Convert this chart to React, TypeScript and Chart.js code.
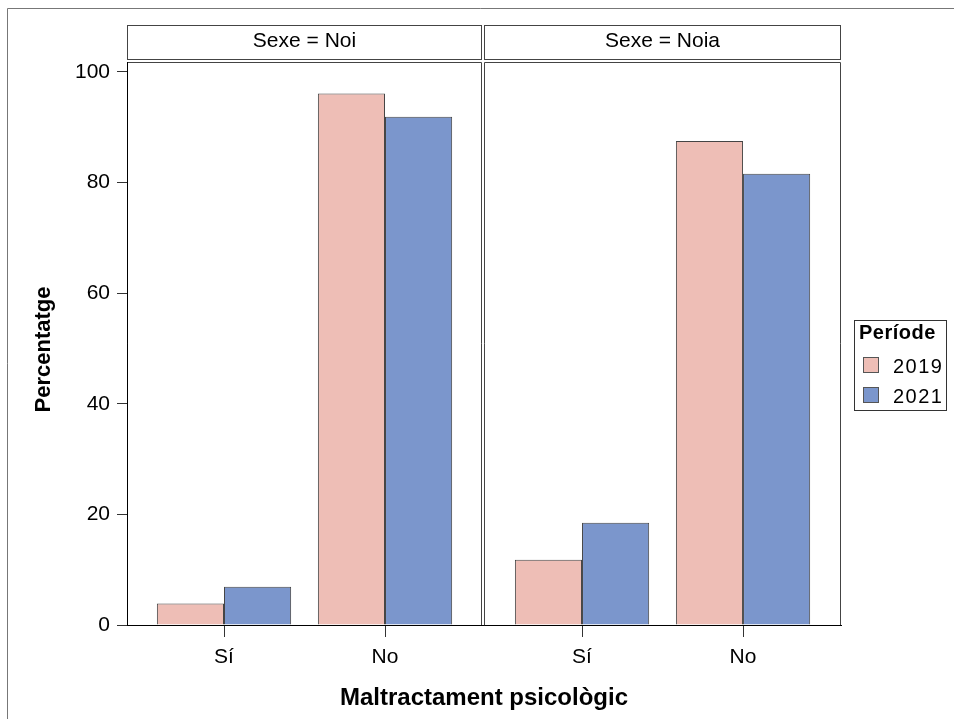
import React, { useEffect, useRef } from "react";
import { Chart, registerables } from "chart.js";

Chart.register(...registerables);

// ---- data ----
const PANELS = ["Sexe = Noi", "Sexe = Noia"];
const CATEGORIES = ["Sí", "No"];
const PERIODS = ["2019", "2021"];
const NOI_2019 = [3.9, 96.1];
const NOI_2021 = [6.9, 91.9];
const NOIA_2019 = [11.8, 87.5];
const NOIA_2021 = [18.5, 81.6];
const Y_TICKS = [0, 20, 40, 60, 80, 100];
const X_TITLE = "Maltractament psicològic";
const Y_TITLE = "Percentatge";
const LEGEND_TITLE = "Període";

const COLORS = ["#EEBEB6", "#7B96CC"];
const FONT = "'Liberation Sans', Arial, Helvetica, sans-serif";

// layout (in x-scale units: one category step = 1)
const PANEL_SPAN = 2.2236;
const X_MIN = -0.6025;
const X_MAX = 3.832;
const xPos = (panel: number, cat: number) => panel * PANEL_SPAN + cat;
const X_TICK_POS = PANELS.flatMap((_, p) => CATEGORIES.map((_, c) => xPos(p, c)));

const seriesFor = (periodIndex: number) => {
  const byPanel = periodIndex === 0 ? [NOI_2019, NOIA_2019] : [NOI_2021, NOIA_2021];
  return byPanel.flatMap((vals, p) => vals.map((v, c) => ({ x: xPos(p, c), y: v })));
};

const decorPlugin = {
  id: "decor",
  afterDraw(chart: any) {
    const { ctx, chartArea } = chart;
    const xs = chart.scales.x;
    const left = chartArea.left;
    const right = chartArea.right;
    const top = chartArea.top;
    const bottom = chartArea.bottom;
    const mid = Math.floor(xs.getPixelForValue((xPos(0, 1) + xPos(1, 0)) / 2));
    const panelsX = [
      [left + 0.5, mid - 1.5],
      [mid + 1.5, right - 0.5],
    ];
    ctx.save();
    // outer frame
    ctx.strokeStyle = "#777";
    ctx.lineWidth = 1;
    ctx.beginPath();
    ctx.moveTo(7.5, 719);
    ctx.lineTo(7.5, 8.5);
    ctx.lineTo(954, 8.5);
    ctx.stroke();

    // panel frames and strips
    ctx.strokeStyle = "#444";
    panelsX.forEach(([a, b], i) => {
      ctx.beginPath();
      ctx.moveTo(a, bottom);
      ctx.lineTo(a, top + 0.5);
      ctx.lineTo(b, top + 0.5);
      ctx.lineTo(b, bottom);
      ctx.stroke();
      ctx.strokeRect(a, 25.5, b - a, 34);
      ctx.fillStyle = "#000";
      ctx.font = `21px ${FONT}`;
      ctx.textAlign = "center";
      ctx.textBaseline = "alphabetic";
      ctx.fillText(PANELS[i], (a + b) / 2, 47);
    });
    // y axis line & x axis line re-drawn black on top
    ctx.strokeStyle = "#000";
    ctx.beginPath();
    ctx.moveTo(left + 0.5, top);
    ctx.lineTo(left + 0.5, bottom + 0.5);
    ctx.lineTo(right, bottom + 0.5);
    ctx.stroke();

    // axis titles
    ctx.fillStyle = "#000";
    ctx.font = `bold 24px ${FONT}`;
    ctx.textAlign = "center";
    ctx.textBaseline = "alphabetic";
    ctx.fillText(X_TITLE, (left + right) / 2, 705);

    ctx.save();
    ctx.translate(50, 349.5);
    ctx.rotate(-Math.PI / 2);
    ctx.font = `bold 22px ${FONT}`;
    ctx.fillText(Y_TITLE, 0, 0);
    ctx.restore();

    // legend
    ctx.strokeStyle = "#333";
    ctx.strokeRect(854.5, 320.5, 92, 90);
    ctx.font = `bold 20px ${FONT}`;
    ctx.textAlign = "left";
    ctx.fillStyle = "#000";
    (ctx as any).letterSpacing = "0.5px";
    ctx.fillText(LEGEND_TITLE, 859, 338.5);
    PERIODS.forEach((p, i) => {
      const y = 357 + i * 30;
      ctx.fillStyle = COLORS[i];
      ctx.fillRect(863, y, 16, 16);
      ctx.strokeStyle = "#555";
      ctx.strokeRect(863.5, y + 0.5, 15, 15);
      ctx.fillStyle = "#000";
      ctx.font = `20px ${FONT}`;
      (ctx as any).letterSpacing = "1.5px";
      ctx.fillText(p, 893, y + 15.5);
    });
    (ctx as any).letterSpacing = "0px";
    ctx.restore();
  },
};

export default function App() {
  const ref = useRef<HTMLCanvasElement | null>(null);
  useEffect(() => {
    if (!ref.current) return;
    Chart.defaults.font.family = FONT;
    const chart = new Chart(ref.current, {
      type: "bar",
      data: {
        datasets: PERIODS.map((p, i) => ({
          label: p,
          data: seriesFor(i),
          backgroundColor: COLORS[i],
          borderColor: "#444",
          borderWidth: 1,
          categoryPercentage: 0.834,
          barPercentage: 1,
        })),
      },
      options: {
        responsive: false,
        animation: false,
        layout: { padding: { top: 62, right: 113, left: 0, bottom: 0 } },
        plugins: {
          legend: { display: false },
          tooltip: { enabled: false },
          title: { display: false },
        },
        scales: {
          x: {
            type: "linear",
            min: X_MIN,
            max: X_MAX,
            offset: false,
            afterBuildTicks: (s: any) => {
              s.ticks = X_TICK_POS.map((v) => ({ value: v }));
            },
            afterFit: (s: any) => {
              s.height = 94;
            },
            grid: {
              offset: false,
              drawOnChartArea: false,
              drawTicks: true,
              tickLength: 12,
              tickColor: "#333",
            },
            border: { display: true, color: "#000", width: 1 },
            ticks: {
              callback: (_v: any, i: number) => CATEGORIES[i % CATEGORIES.length],
              font: { size: 21 },
              color: "#000",
              padding: 8,
              autoSkip: false,
              maxRotation: 0,
            },
          },
          y: {
            min: 0,
            max: 101.8,
            afterBuildTicks: (s: any) => {
              s.ticks = Y_TICKS.map((v) => ({ value: v }));
            },
            afterFit: (s: any) => {
              s.width = 127;
            },
            grid: {
              drawOnChartArea: false,
              drawTicks: true,
              tickLength: 10,
              tickColor: "#333",
            },
            border: { display: true, color: "#000", width: 1 },
            ticks: { font: { size: 21 }, color: "#000", padding: 7 },
          },
        },
      } as any,
      plugins: [decorPlugin],
    });
    return () => chart.destroy();
  }, []);
  return (
    <div style={{ position: "fixed", left: 0, top: 0, width: 954, height: 719, background: "#fff" }}>
      <canvas ref={ref} width={954} height={719} style={{ display: "block" }} />
    </div>
  );
}
